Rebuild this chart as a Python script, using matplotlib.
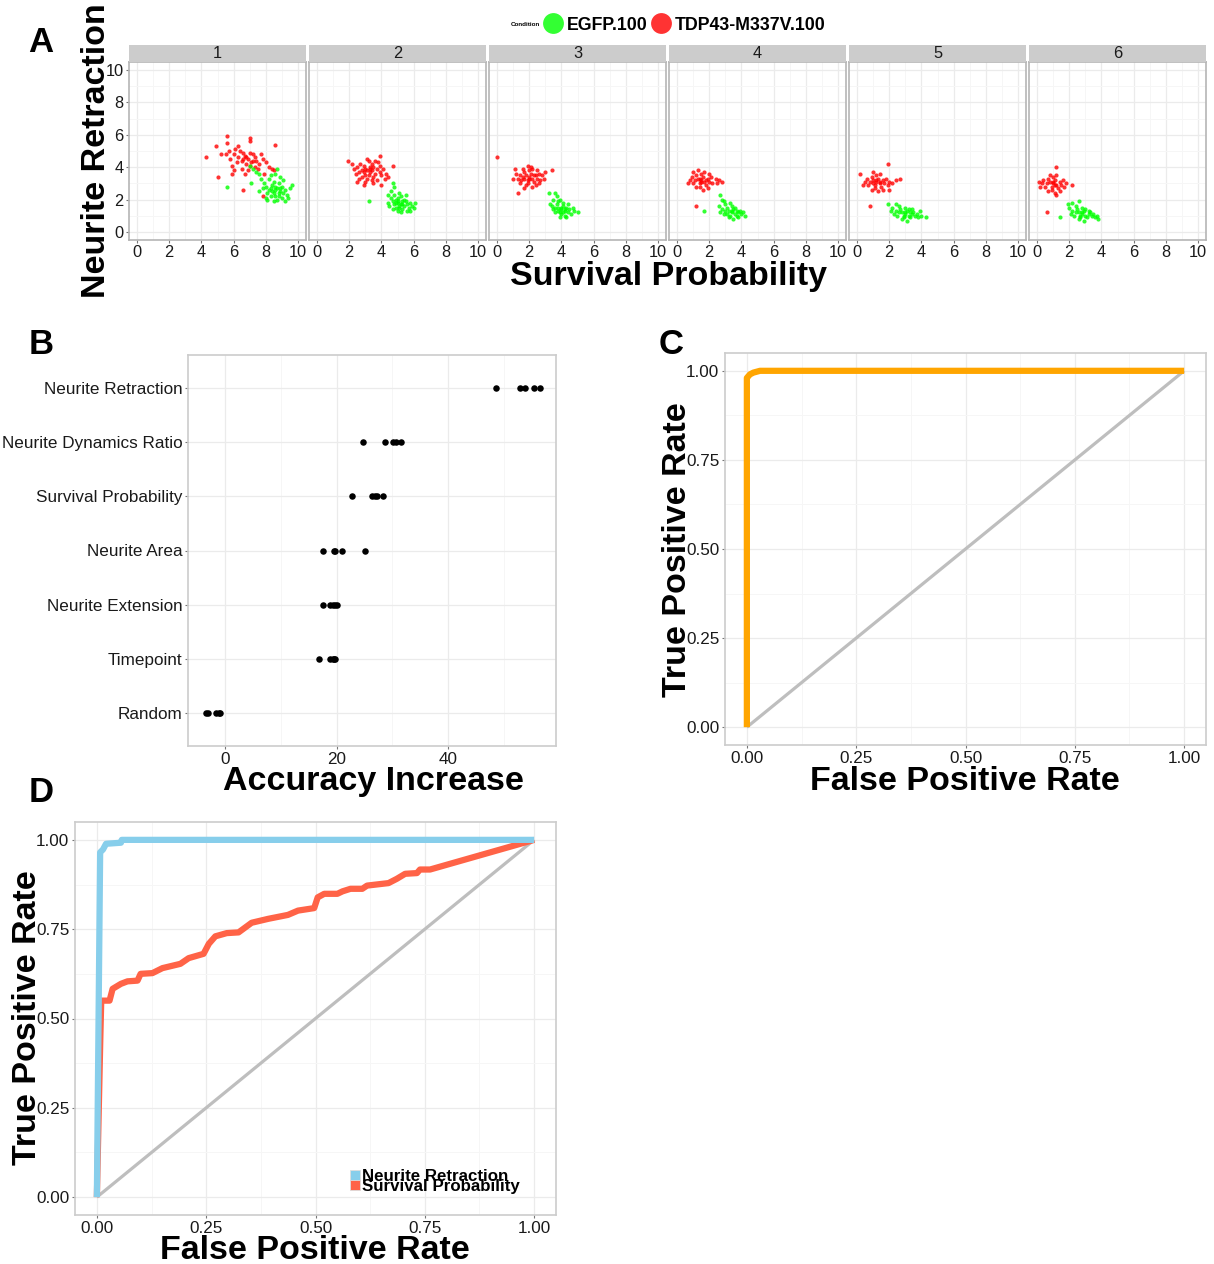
import matplotlib
matplotlib.use('Agg')
import matplotlib.pyplot as plt
from matplotlib.lines import Line2D
from matplotlib.patches import Patch
import numpy as np

# ---------------- data ----------------
facet_labels = ['1', '2', '3', '4', '5', '6']
conditions = ['EGFP.100', 'TDP43-M337V.100']

# Panel A: (survival probability, neurite retraction) per facet
f1_red = [(6.0,4.8),(6.3,4.6),(6.5,4.4),(6.7,4.7),(6.9,4.5),(7.1,4.3),(7.3,4.6),(6.6,4.9),(6.2,4.3),(7.0,4.1),
          (7.4,4.4),(6.8,4.2),(6.4,5.0),(7.2,4.8),(5.8,4.5),(7.6,4.2),(7.8,4.5),(6.1,5.1),(5.9,4.1),(6.5,3.9),
          (7.5,3.9),(7.0,4.9),(6.3,5.3),(5.7,5.0),(8.0,4.3),(7.7,4.8),(6.0,3.8),(6.9,3.8),(7.3,4.0),(8.2,4.0),
          (8.4,3.9),(5.5,4.8),(5.6,5.5),(5.6,5.9),(7.0,5.8),(7.0,5.6),(8.6,5.4),(4.3,4.6),(5.0,3.4),(5.2,4.8),
          (4.9,5.3),(6.6,2.6),(7.8,2.2),(8.5,3.8),(7.9,3.6),(6.7,3.6),(5.9,3.6),(6.6,4.5),(7.2,4.4),(6.8,4.6)]
f1_green = [(8.2,2.6),(8.5,2.4),(8.7,2.7),(8.4,2.9),(8.9,2.5),(8.0,2.8),(8.6,2.2),(9.0,2.8),(8.3,2.2),(8.8,3.0),
            (8.1,2.4),(9.2,2.6),(8.5,3.1),(7.9,3.0),(8.7,2.0),(9.3,2.3),(8.2,3.3),(9.0,2.1),(8.6,2.6),(8.4,2.5),
            (8.8,2.4),(7.8,2.7),(9.5,2.7),(9.6,2.9),(9.4,2.1),(8.0,2.1),(8.3,3.5),(8.6,3.6),(7.7,3.3),(9.1,3.2),
            (8.9,3.4),(8.1,2.0),(8.5,1.9),(9.2,1.9),(7.6,3.6),(7.6,2.5),(7.0,4.1),(7.2,3.9),(5.6,2.8),(7.1,3.0),
            (8.7,3.9),(9.1,2.4),(8.3,2.7),(8.8,2.2),(7.4,3.7),(8.6,2.8),(8.9,2.7)]
f2_red = [(3.0,3.9),(3.3,3.7),(3.5,4.0),(3.2,3.5),(2.8,3.8),(3.6,3.6),(3.4,4.2),(2.9,4.1),(3.1,3.3),(3.7,3.9),
          (2.6,3.7),(3.9,3.7),(3.3,4.0),(2.7,4.2),(3.5,3.4),(3.8,4.3),(2.5,4.0),(3.0,3.5),(4.0,3.5),(3.4,3.2),
          (2.4,3.6),(3.2,4.4),(2.8,3.4),(3.6,4.4),(4.1,3.9),(4.2,3.3),(2.3,3.9),(3.0,3.1),(3.7,3.2),(2.6,3.3),
          (3.9,4.1),(4.3,3.6),(3.1,4.5),(2.2,4.2),(1.9,4.4),(4.7,4.1),(3.9,4.7),(4.0,2.9),(2.9,2.9),(3.5,3.0),
          (4.4,3.4),(2.5,3.1),(3.3,3.9),(2.9,3.7),(3.4,3.8),(3.1,3.8)]
f2_green = [(5.0,1.8),(5.2,1.7),(4.9,2.0),(5.3,1.9),(5.1,1.5),(4.8,1.7),(5.4,1.6),(5.0,2.1),(5.6,1.7),(4.7,1.9),
            (5.2,2.2),(5.5,1.9),(4.9,1.5),(5.3,1.4),(5.7,1.5),(4.6,2.1),(5.8,1.8),(5.0,1.3),(4.5,1.6),(5.4,2.0),
            (5.1,2.4),(4.8,2.3),(5.9,1.6),(6.1,1.8),(4.4,1.8),(5.6,1.3),(4.7,1.4),(5.2,1.2),(5.5,2.3),(4.6,2.5),
            (4.8,2.8),(4.7,3.0),(3.2,1.9),(5.0,1.9),(5.3,1.7),(4.9,1.8),(5.8,1.3),(6.0,1.5),(4.4,2.3),(5.1,1.6)]
f3_red = [(2.0,3.4),(1.8,3.5),(2.2,3.3),(1.9,3.2),(2.1,3.6),(1.6,3.4),(2.4,3.5),(1.7,3.7),(2.3,3.1),(1.5,3.2),
          (2.5,3.3),(2.0,3.8),(1.4,3.5),(2.6,3.6),(1.9,3.0),(2.2,3.9),(1.3,3.3),(2.7,3.2),(1.8,2.9),(2.4,2.9),
          (1.6,3.9),(2.1,4.0),(1.2,3.6),(2.8,3.5),(1.0,3.3),(1.4,3.0),(2.5,3.8),(1.7,2.7),(2.2,2.8),(2.9,3.3),
          (3.0,3.7),(3.4,3.8),(1.1,3.9),(1.9,4.1),(1.3,2.4),(0.0,4.6),(2.0,3.3),(2.3,3.5),(1.7,3.3),(2.6,3.0)]
f3_green = [(4.0,1.4),(3.8,1.5),(4.2,1.3),(3.9,1.2),(4.1,1.6),(3.6,1.5),(4.4,1.2),(3.7,1.7),(4.3,1.5),(4.0,1.1),
            (3.5,1.4),(4.5,1.4),(3.8,1.9),(4.6,1.1),(4.2,1.0),(3.4,1.6),(4.8,1.3),(3.6,1.2),(4.1,1.8),(3.9,2.0),
            (3.7,2.2),(3.5,2.0),(3.3,1.7),(4.4,1.7),(4.7,1.5),(5.0,1.2),(4.3,0.9),(3.9,0.9),(3.2,2.4),(3.6,2.4),
            (4.0,1.5),(3.8,1.3),(4.2,1.4),(4.1,1.2)]
f4_red = [(1.5,3.2),(1.3,3.3),(1.7,3.1),(1.4,3.0),(1.6,3.4),(1.1,3.2),(1.9,3.3),(1.2,3.5),(1.8,2.9),(1.0,3.0),
          (2.0,3.1),(1.5,3.6),(0.9,3.4),(2.1,3.4),(1.4,2.8),(1.7,3.7),(0.8,3.2),(2.2,3.0),(1.2,2.8),(1.9,2.7),
          (2.4,3.3),(2.6,3.2),(2.8,3.1),(1.0,3.7),(1.3,3.8),(0.7,3.0),(1.6,2.6),(2.0,3.6),(1.2,1.6),(2.5,3.0),
          (1.5,3.1),(1.8,3.2),(1.4,3.3)]
f4_green = [(3.4,1.2),(3.2,1.3),(3.6,1.1),(3.3,1.0),(3.5,1.4),(3.0,1.3),(3.8,1.2),(3.1,1.5),(3.7,1.0),(2.9,1.1),
            (3.9,1.3),(3.4,1.6),(2.8,1.4),(4.0,1.1),(3.2,0.9),(3.6,1.5),(2.7,1.2),(4.1,1.2),(3.0,1.7),(2.9,1.9),
            (2.8,2.0),(2.7,2.3),(3.5,0.8),(3.8,0.9),(4.2,1.0),(3.3,1.8),(2.6,1.6),(1.7,1.3),(3.4,1.3),(3.1,1.1),
            (3.7,1.3)]
f5_red = [(1.2,3.1),(1.0,3.2),(1.4,3.0),(1.1,2.9),(1.3,3.3),(0.8,3.1),(1.6,3.2),(0.9,3.4),(1.5,2.8),(0.7,2.9),
          (1.7,3.0),(1.2,3.5),(0.6,3.3),(1.8,3.3),(1.1,2.7),(1.4,3.6),(0.5,3.1),(1.9,2.9),(0.9,2.6),(1.6,2.6),
          (2.0,3.1),(2.2,3.0),(2.0,2.6),(0.4,2.9),(1.0,3.7),(1.3,2.5),(2.4,3.2),(2.7,3.3),(0.2,3.6),(1.9,4.2),
          (0.8,1.6),(1.2,3.2),(1.4,3.1),(1.0,3.0)]
f5_green = [(3.0,1.1),(2.8,1.2),(3.2,1.0),(2.9,0.9),(3.1,1.3),(2.6,1.2),(3.4,1.1),(2.7,1.4),(3.3,0.9),(2.5,1.0),
            (3.5,1.2),(3.0,1.5),(2.4,1.3),(3.6,1.0),(2.8,0.8),(3.2,1.4),(2.3,1.1),(3.7,1.1),(2.6,1.6),(3.8,0.9),
            (3.1,0.7),(2.2,1.5),(4.0,1.0),(4.3,0.9),(2.1,1.3),(2.4,1.7),(1.9,1.7),(3.4,1.4),(3.9,1.3),(3.0,1.2),
            (2.9,1.0),(3.3,1.2)]
f6_red = [(1.0,3.0),(0.8,3.1),(1.2,2.9),(0.9,2.8),(1.1,3.2),(0.6,3.0),(1.4,3.1),(0.7,3.3),(1.3,2.7),(0.5,2.8),
          (1.5,2.9),(1.0,3.4),(0.4,3.2),(1.6,3.2),(0.9,2.6),(1.2,3.5),(0.3,3.0),(1.7,2.8),(0.7,2.5),(1.4,2.5),
          (1.2,2.3),(0.1,3.1),(1.8,3.0),(2.2,2.9),(1.2,4.0),(0.6,1.2),(1.1,2.4),(0.8,3.5),(0.2,2.8),(1.0,3.1),
          (1.1,2.9)]
f6_green = [(2.8,1.1),(2.6,1.2),(3.0,1.0),(2.7,0.9),(2.9,1.3),(2.4,1.2),(3.2,1.1),(2.5,1.4),(3.1,0.9),(2.3,1.0),
            (3.3,1.2),(2.8,1.5),(2.2,1.3),(3.4,1.0),(2.6,0.8),(3.0,1.4),(2.1,1.1),(3.5,1.1),(2.4,1.6),(3.6,0.9),
            (2.9,0.7),(3.7,1.0),(3.8,0.8),(2.0,1.5),(1.9,1.7),(2.2,1.8),(2.6,1.9),(1.4,0.9),(3.2,1.3),(2.8,1.2),
            (2.7,1.0)]

egfp_points = [f1_green, f2_green, f3_green, f4_green, f5_green, f6_green]
tdp_points = [f1_red, f2_red, f3_red, f4_red, f5_red, f6_red]

# Panel B: accuracy increase per feature
features = ['Neurite Retraction', 'Neurite Dynamics Ratio', 'Survival Probability',
            'Neurite Area', 'Neurite Extension', 'Timepoint', 'Random']
accuracy_increase = [
    [48.5, 52.8, 53.8, 55.4, 56.4],
    [24.7, 28.6, 30.2, 30.7, 31.5],
    [22.8, 26.4, 26.9, 27.2, 28.4],
    [17.6, 19.5, 19.8, 20.9, 25.1],
    [17.5, 18.9, 19.3, 19.8, 20.0],
    [16.9, 18.8, 19.3, 19.6, 19.8],
    [-3.4, -3.0, -1.6, -1.1, -0.8],
]

# Panel C: ROC (combined)
c_fpr = [0.0, 0.0, 0.007, 0.015, 0.03, 1.0]
c_tpr = [0.0, 0.98, 0.99, 0.995, 1.0, 1.0]

# Panel D: ROC per feature
nr_fpr = [0.0, 0.0075, 0.014, 0.021, 0.055, 0.057, 1.0]
nr_tpr = [0.0, 0.965, 0.973, 0.989, 0.992, 1.0, 1.0]
sp_fpr = [0.0, 0.008, 0.01, 0.029, 0.036, 0.055, 0.070, 0.093, 0.100, 0.127, 0.150, 0.191, 0.210,
          0.244, 0.256, 0.271, 0.297, 0.324, 0.354, 0.392, 0.437, 0.460, 0.497, 0.505, 0.520,
          0.550, 0.562, 0.580, 0.607, 0.618, 0.667, 0.686, 0.705, 0.732, 0.739, 0.762, 1.0]
sp_tpr = [0.0, 0.45, 0.55, 0.55, 0.583, 0.597, 0.604, 0.606, 0.625, 0.627, 0.641, 0.653, 0.669,
          0.681, 0.709, 0.730, 0.739, 0.741, 0.768, 0.779, 0.790, 0.802, 0.809, 0.839, 0.849,
          0.849, 0.856, 0.863, 0.863, 0.872, 0.879, 0.891, 0.905, 0.907, 0.917, 0.917, 1.0]
roc_labels = ['Neurite Retraction', 'Survival Probability']
diag = [0.0, 1.0]

roc_ticks = [0.0, 0.25, 0.5, 0.75, 1.0]
roc_ticklabels = ['0.00', '0.25', '0.50', '0.75', '1.00']

# ---------------- figure ----------------
W, H = 1214, 1264
plt.rcParams['font.family'] = ['Liberation Sans', 'DejaVu Sans']

fig = plt.figure(figsize=(W / 100, H / 100), dpi=100)
fig.patch.set_facecolor('white')


def rect(x0, y0, x1, y1):
    return [x0 / W, 1 - y1 / H, (x1 - x0) / W, (y1 - y0) / H]


def fx(x):
    return x / W


def fy(y):
    return 1 - y / H


GRID_MAJ = '#EBEBEB'
GRID_MIN = '#F6F6F6'
BORDER = '#CCCCCC'
TICKC = '#1A1A1A'


def style(ax, xmaj, xmin, ymaj, ymin, labelsize=12.3):
    ax.set_facecolor('white')
    for s in ax.spines.values():
        s.set_color(BORDER)
        s.set_linewidth(1.2)
    ax.set_xticks(xmaj)
    ax.set_xticks(xmin, minor=True)
    ax.set_yticks(ymaj)
    ax.set_yticks(ymin, minor=True)
    ax.grid(which='major', color=GRID_MAJ, lw=0.9)
    ax.grid(which='minor', color=GRID_MIN, lw=0.7)
    ax.tick_params(which='minor', length=0)
    ax.tick_params(which='major', length=2.5, width=0.8, color='#777777',
                   labelsize=labelsize, labelcolor=TICKC, pad=1.5)
    ax.set_axisbelow(True)


bold = dict(fontweight='bold', color='black')

# ---------------- Panel A ----------------
for i in range(6):
    x0 = 129 + i * 180
    ax = fig.add_axes(rect(x0, 62, x0 + 177, 240))
    style(ax, [0, 2, 4, 6, 8, 10], [1, 3, 5, 7, 9], [0, 2, 4, 6, 8, 10], [1, 3, 5, 7, 9], labelsize=11.8)
    for s in ax.spines.values():
        s.set_color('#B5B5B5')
    r = np.array(tdp_points[i])
    g = np.array(egfp_points[i])
    ax.scatter(r[:, 0], r[:, 1], s=9, c='#FF0000', alpha=0.8, linewidths=0)
    ax.scatter(g[:, 0], g[:, 1], s=9, c='#00FF00', alpha=0.8, linewidths=0)
    ax.set_xlim(-0.5, 10.5)
    ax.set_ylim(-0.5, 10.5)
    ax.tick_params(axis='x', pad=1)
    if i > 0:
        ax.tick_params(axis='y', which='both', left=False, labelleft=False)
    # strip
    sax = fig.add_axes(rect(x0, 45, x0 + 177, 62))
    sax.set_facecolor('#CCCCCC')
    sax.set_xticks([])
    sax.set_yticks([])
    for s in sax.spines.values():
        s.set_visible(False)
    sax.text(0.5, 0.5, facet_labels[i], ha='center', va='center', fontsize=11.8,
             color='#1A1A1A', transform=sax.transAxes)

fig.text(fx(105), fy(151), 'Neurite Retraction', rotation=90, ha='center', va='baseline',
         rotation_mode='anchor', fontsize=24.5, **bold)
fig.text(fx(668), fy(285), 'Survival Probability', ha='center', va='baseline', fontsize=24.5, **bold)

# legend for panel A
fig.text(fx(525), fy(25), 'Condition', ha='center', va='center', fontsize=4.5, fontweight='bold')
leg_handles = [Line2D([], [], ls='', marker='o', markersize=15, markerfacecolor='#33FF33',
                      markeredgecolor='none'),
               Line2D([], [], ls='', marker='o', markersize=15, markerfacecolor='#FF3333',
                      markeredgecolor='none')]
fig.legend(leg_handles, conditions, ncol=2, loc='center left', bbox_to_anchor=(fx(544), fy(25)),
           frameon=False, handlelength=1.0, handletextpad=0.27, columnspacing=0.25,
           prop=dict(weight='bold', size=12.8), borderaxespad=0, borderpad=0)

# ---------------- Panel B ----------------
axb = fig.add_axes(rect(188, 355, 556, 746))
nfeat = len(features)
ypos = [nfeat - 1 - k for k in range(nfeat)]
style(axb, [0, 20, 40], [10, 30, 50], ypos, [])
for k, vals in enumerate(accuracy_increase):
    axb.scatter(vals, [ypos[k]] * len(vals), s=22, c='black', linewidths=0, zorder=3)
axb.set_yticks(ypos)
axb.set_yticklabels(features)
axb.set_xlim(-6.6, 59.3)
axb.set_ylim(-0.6, nfeat - 1 + 0.6)
fig.text(fx(373), fy(790), 'Accuracy Increase', ha='center', va='baseline', fontsize=24.5, **bold)

# ---------------- Panel C ----------------
minor_roc = [0.125, 0.375, 0.625, 0.875]
axc = fig.add_axes(rect(725, 353, 1206, 745))
style(axc, roc_ticks, minor_roc, roc_ticks, minor_roc)
axc.set_xticklabels(roc_ticklabels)
axc.set_yticklabels(roc_ticklabels)
axc.plot(diag, diag, color='#BEBEBE', lw=2.3, solid_capstyle='butt')
axc.plot(c_fpr, c_tpr, color='#FFA500', lw=4.5, solid_joinstyle='round', solid_capstyle='butt')
axc.set_xlim(-0.05, 1.05)
axc.set_ylim(-0.05, 1.05)
fig.text(fx(686), fy(550), 'True Positive Rate', rotation=90, ha='center', va='baseline',
         rotation_mode='anchor', fontsize=24.5, **bold)
fig.text(fx(965), fy(790), 'False Positive Rate', ha='center', va='baseline', fontsize=24.5, **bold)

# ---------------- Panel D ----------------
axd = fig.add_axes(rect(75, 822, 556, 1215))
style(axd, roc_ticks, minor_roc, roc_ticks, minor_roc)
axd.set_xticklabels(roc_ticklabels)
axd.set_yticklabels(roc_ticklabels)
axd.plot(diag, diag, color='#BEBEBE', lw=2.3, solid_capstyle='butt')
axd.plot(sp_fpr, sp_tpr, color='#FF6347', lw=4.5, solid_joinstyle='round', solid_capstyle='butt')
axd.plot(nr_fpr, nr_tpr, color='#87CEEB', lw=4.5, solid_joinstyle='round', solid_capstyle='butt')
axd.set_xlim(-0.05, 1.05)
axd.set_ylim(-0.05, 1.05)
dh = [Patch(facecolor='#87CEEB', edgecolor='#DDDDDD', lw=0.6),
      Patch(facecolor='#FF6347', edgecolor='#DDDDDD', lw=0.6)]
axd.legend(dh, roc_labels, loc='lower left', bbox_to_anchor=(fx(350), fy(1194)),
           bbox_transform=fig.transFigure, frameon=False, labelspacing=-0.32,
           handlelength=0.6, handleheight=0.6, handletextpad=0.12, borderpad=0, borderaxespad=0,
           prop=dict(weight='bold', size=12.2))
fig.text(fx(36), fy(1018), 'True Positive Rate', rotation=90, ha='center', va='baseline',
         rotation_mode='anchor', fontsize=24.5, **bold)
fig.text(fx(315), fy(1259), 'False Positive Rate', ha='center', va='baseline', fontsize=24.5, **bold)

# ---------------- Panel letters ----------------
for letter, (px, py) in zip(['A', 'B', 'C', 'D'], [(41, 52), (41, 354), (671, 354), (41, 802)]):
    fig.text(fx(px), fy(py), letter, ha='center', va='baseline', fontsize=25, **bold)

fig.savefig('out.png', dpi=100, facecolor='white')
